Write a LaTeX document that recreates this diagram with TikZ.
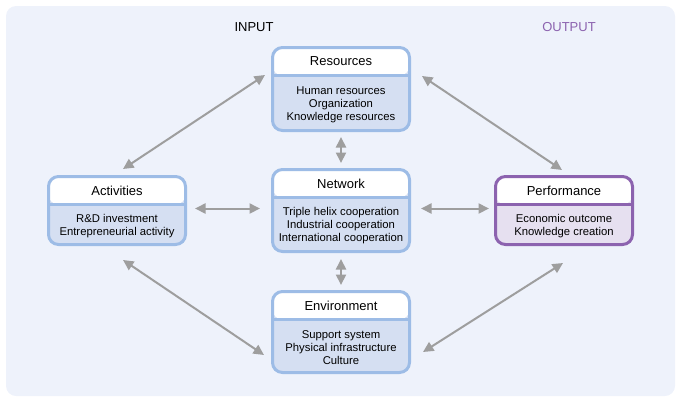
\documentclass[tikz,border=0pt]{standalone}
\usepackage{fontspec}
\setmainfont{Liberation Sans}
\usetikzlibrary{arrows.meta}
\definecolor{bgblue}{HTML}{EEF2FB}
\definecolor{boxblue}{HTML}{9DBCE6}
\definecolor{lowblue}{HTML}{D5DFF2}
\definecolor{boxpurple}{HTML}{8C63AF}
\definecolor{lowpurple}{HTML}{E6E0F0}
\definecolor{linkgray}{HTML}{9E9E9E}
\tikzset{
	block/.style={draw=#1, line width=3pt, rounded corners=10pt, minimum width=137pt, inner sep=0pt,
		path picture={
			\fill[white] (path picture bounding box.north west) rectangle ([yshift=-28pt]path picture bounding box.north east);
			\draw[#1, line width=3pt] ([yshift=-28pt]path picture bounding box.north west) -- ([yshift=-28pt]path picture bounding box.north east);
		}},
	block/.default=boxblue,
	head/.style={font=\fontsize{13}{15}\selectfont, inner sep=0pt},
	body/.style={font=\fontsize{11.3}{13}\selectfont, align=center, inner sep=0pt},
	link/.style={linkgray, line width=2pt, {Triangle[length=10.5pt,width=10pt]}-{Triangle[length=10.5pt,width=10pt]}},
}
\begin{document}
\begin{tikzpicture}[x=1pt,y=-1pt]
	\useasboundingbox (0,0) rectangle (679,402);
	\fill[bgblue, rounded corners=10pt] (6,6) rectangle (675,396);
	\node[head] (in) at (254,27) {INPUT};
	\node[head, text=boxpurple] (out) at (569,27) {OUTPUT};
	% blocks
	\node[block, fill=lowblue, minimum height=83pt] (res) at (341,89) {};
	\node[block, fill=lowblue, minimum height=68pt] (act) at (117,210.5) {};
	\node[block, fill=lowblue, minimum height=82pt] (net) at (341,210.5) {};
	\node[block=boxpurple, fill=lowpurple, minimum height=68pt] (perf) at (564,210.5) {};
	\node[block, fill=lowblue, minimum height=81pt] (env) at (341,332) {};
	% titles and contents
	\node[head] (res-t) at ([yshift=-15.5pt]res.north) {Resources};
	\node[body] (res-b) at ([yshift=-15.5pt]res.center) {Human resources\\Organization\\Knowledge resources};
	\node[head] (act-t) at ([yshift=-15.5pt]act.north) {Activities};
	\node[body] (act-b) at ([yshift=-15.5pt]act.center) {R\&D investment\\Entrepreneurial activity};
	\node[head] (net-t) at ([yshift=-15.5pt]net.north) {Network};
	\node[body] (net-b) at ([yshift=-15.5pt]net.center) {Triple helix cooperation\\Industrial cooperation\\International cooperation};
	\node[head] (perf-t) at ([yshift=-15.5pt]perf.north) {Performance};
	\node[body] (perf-b) at ([yshift=-15.5pt]perf.center) {Economic outcome\\Knowledge creation};
	\node[head] (env-t) at ([yshift=-15.5pt]env.north) {Environment};
	\node[body] (env-b) at ([yshift=-15.5pt]env.center) {Support system\\Physical infrastructure\\Culture};
	% links
	\draw[link] ([xshift=6pt,yshift=6pt]act.north) -- ([xshift=-6pt,yshift=14pt]res.west);
	\draw[link] ([xshift=11pt,yshift=13pt]res.east) -- ([xshift=-2pt,yshift=5pt]perf.north);
	\draw[link] ([xshift=6pt,yshift=-14pt]act.south) -- ([xshift=-7pt,yshift=-23pt]env.west);
	\draw[link] ([xshift=-1pt,yshift=-17pt]perf.south) -- ([xshift=12pt,yshift=-20pt]env.east);
	\draw[link] ([yshift=-5pt]res.south) -- ([yshift=5pt]net.north);
	\draw[link] ([yshift=-6pt]net.south) -- ([yshift=5pt]env.north);
	\draw[link] ([xshift=8pt,yshift=2pt]act.east) -- ([xshift=-11pt,yshift=2pt]net.west);
	\draw[link] ([xshift=10pt,yshift=2pt]net.east) -- ([xshift=-5pt,yshift=2pt]perf.west);
\end{tikzpicture}
\end{document}
